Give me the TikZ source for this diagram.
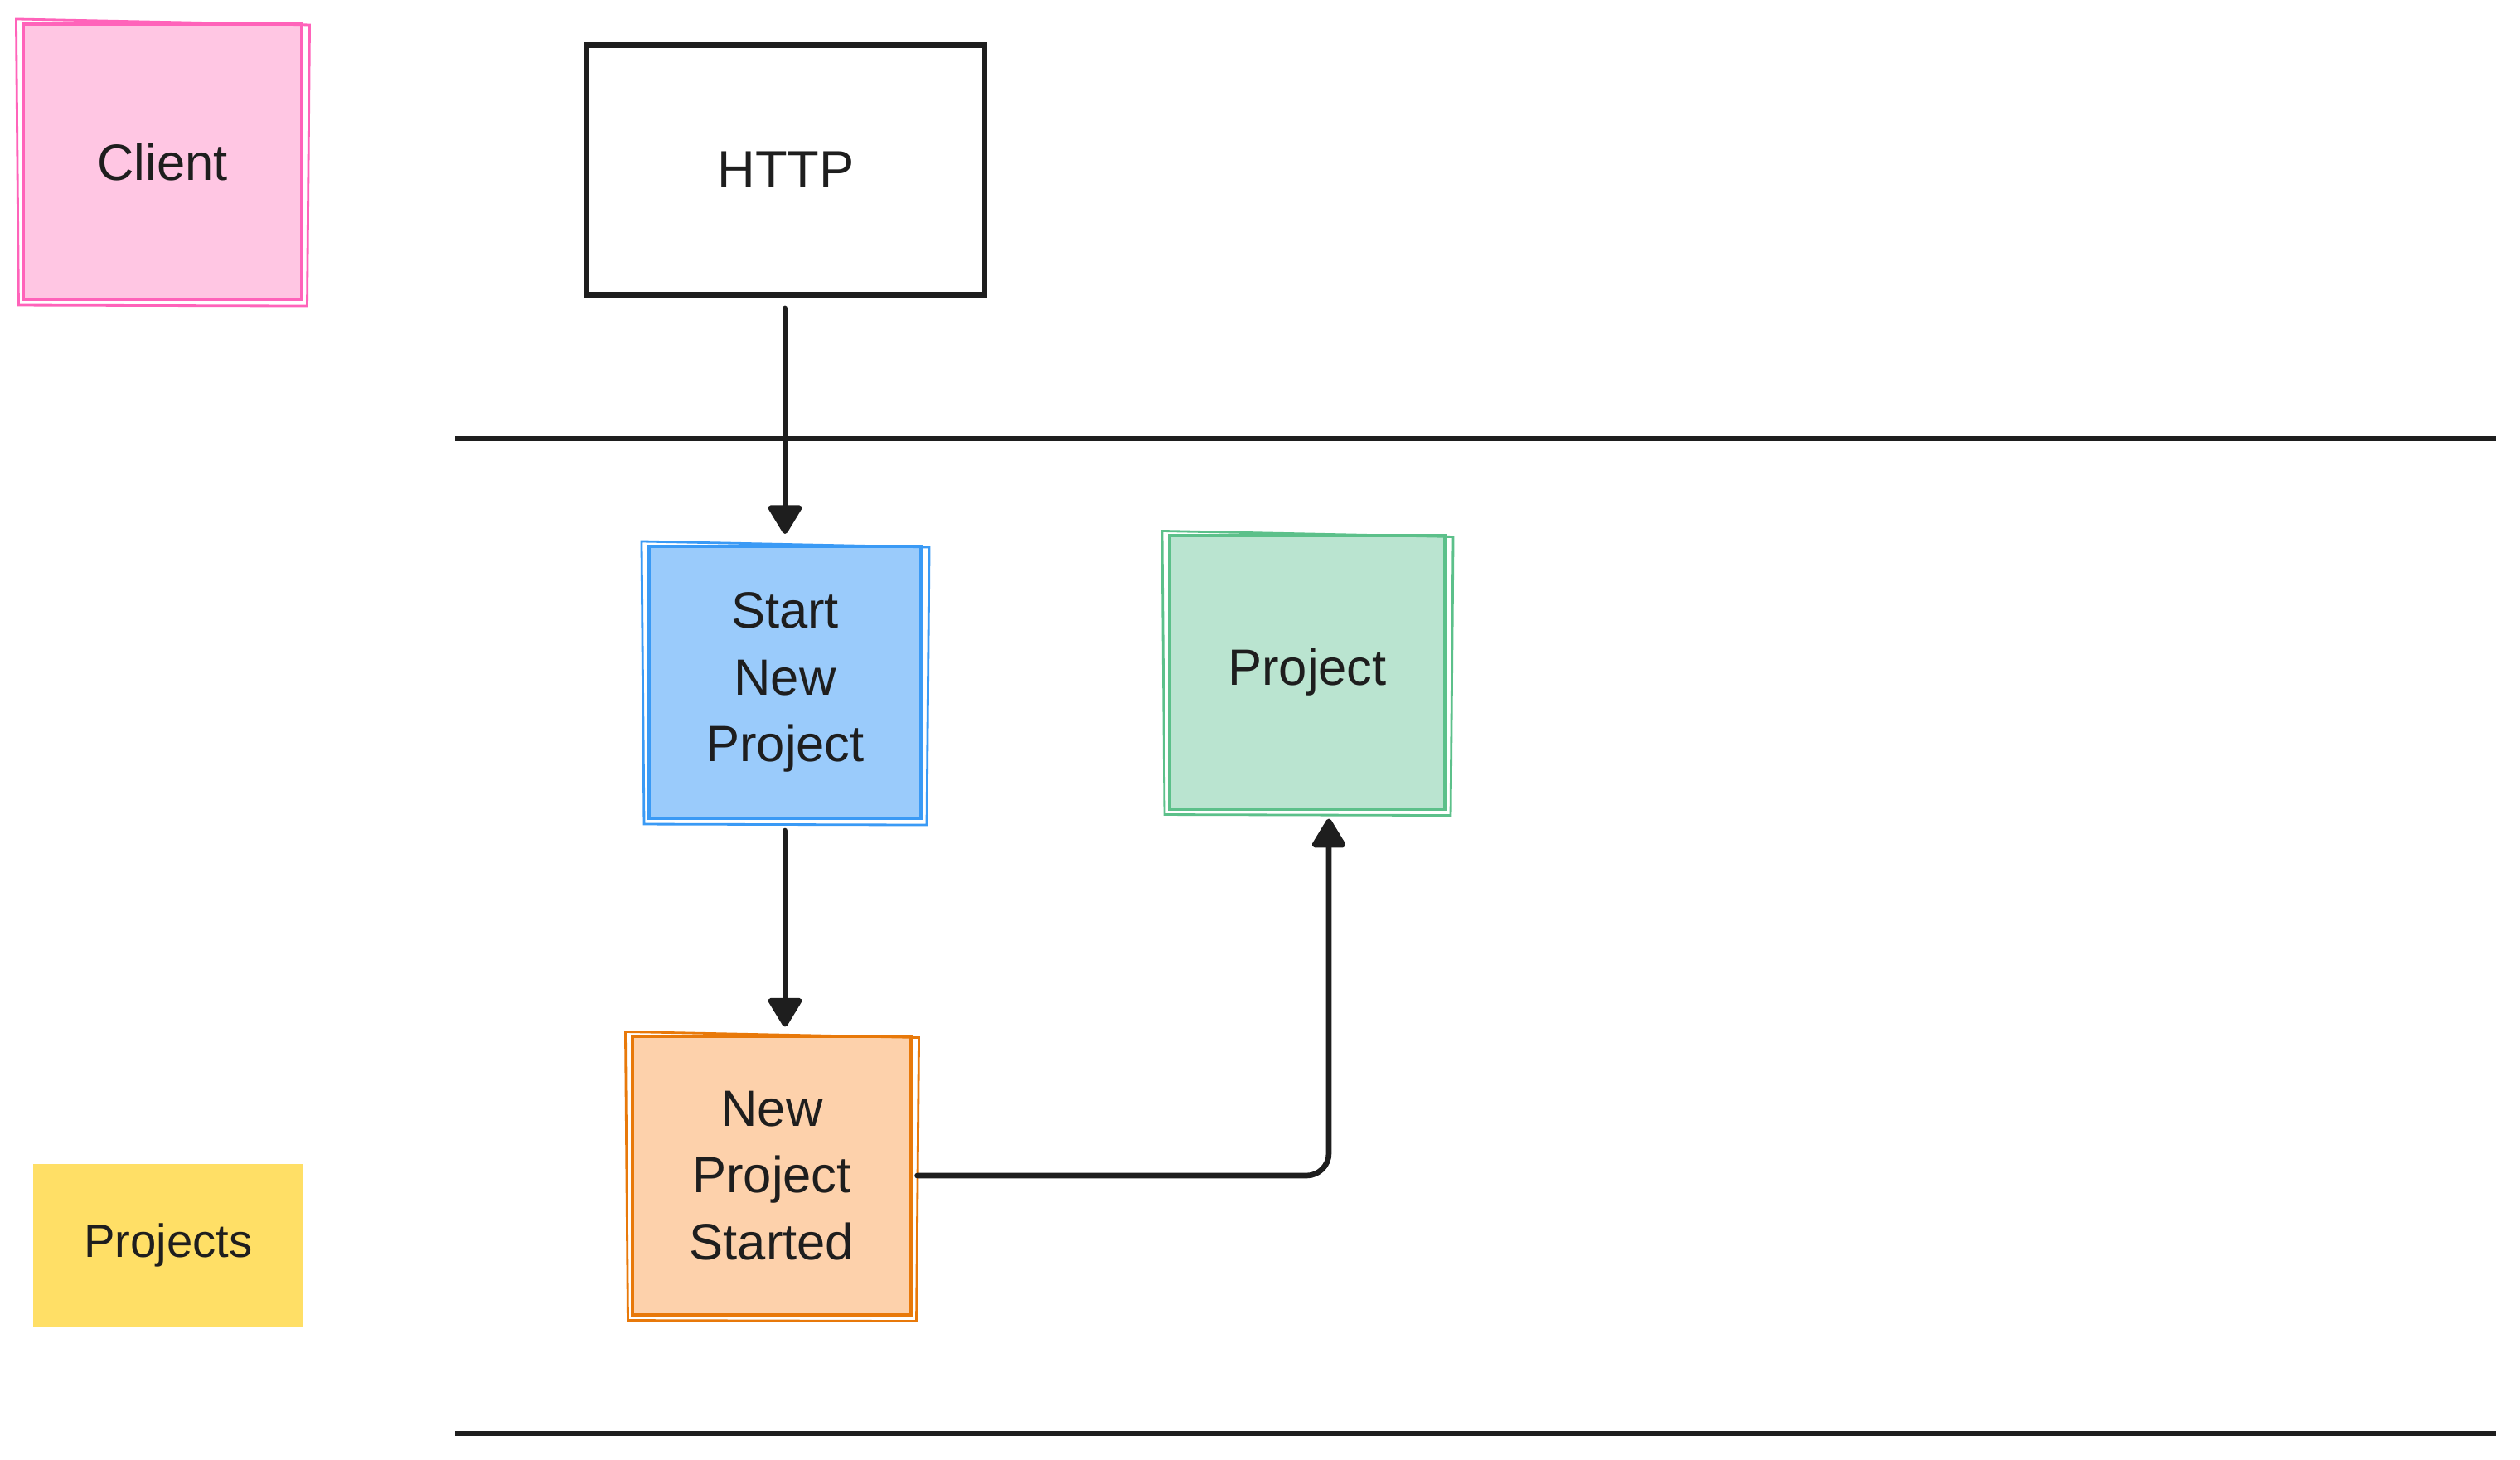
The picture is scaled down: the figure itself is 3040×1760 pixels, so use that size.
\documentclass[tikz,border=0pt]{standalone}
\usepackage{fontspec}
\setmainfont{Liberation Sans}
\usetikzlibrary{arrows.meta}
\definecolor{ink}{HTML}{1E1E1E}
\definecolor{pinkline}{HTML}{FF63BA}
\definecolor{pinkfill}{HTML}{FFC6E3}
\definecolor{blueline}{HTML}{3A9AF5}
\definecolor{bluefill}{HTML}{9ACBFB}
\definecolor{greenline}{HTML}{5CC08A}
\definecolor{greenfill}{HTML}{BAE4D0}
\definecolor{orangeline}{HTML}{E8790A}
\definecolor{orangefill}{HTML}{FDD1AB}
\definecolor{yellowfill}{HTML}{FFDF66}
\begin{document}
\begin{tikzpicture}[x=0.01cm,y=-0.01cm,
  sticky/.style={draw,line width=1.1pt,inner sep=0pt,align=center,text=ink,
    minimum width=3.32cm,minimum height=3.32cm,font=\fontsize{17.5}{23}\selectfont},
  flow/.style={draw=ink,line width=1.9pt,line cap=round,rounded corners=0.27cm,
    -{Triangle[length=0.38cm,width=0.44cm,round]}},
  lane/.style={draw=ink,line width=1.8pt}]
\useasboundingbox (0,0) rectangle (3040,1760);
% swimlane borders
\draw[lane] (549,529) -- (3011,529);
\draw[lane] (549,1729) -- (3011,1729);
% boxes
\node[sticky,draw=pinkline,fill=pinkfill,minimum width=3.35cm] (client) at (196,195) {Client};
\node[draw=ink,line width=1.9pt,text=ink,minimum width=4.8cm,minimum height=3.01cm,
  font=\fontsize{18}{21}\selectfont] (http) at (948,205) {HTTP};
\node[sticky,draw=blueline,fill=bluefill,minimum width=3.28cm,minimum height=3.28cm] (start) at (947,823) {Start\\New\\Project};
\node[sticky,draw=greenline,fill=greenfill,minimum height=3.29cm] (project) at (1577,811) {Project};
\node[sticky,draw=orangeline,fill=orangefill,minimum width=3.35cm,minimum height=3.35cm] (started) at (931,1418) {New\\Project\\Started};
\node[fill=yellowfill,text=ink,minimum width=3.25cm,minimum height=1.96cm,
  font=\fontsize{16}{19}\selectfont] (projects) at (203,1502) {Projects};
% second pencil stroke
\foreach \n/\c in {client/pinkline,start/blueline,project/greenline,started/orangeline}
  \draw[\c,line width=0.8pt] ([shift={(-7,-4)}]\n.north west) -- ([shift={(8,3)}]\n.north east)
    -- ([shift={(5,6)}]\n.south east) -- ([shift={(-4,5)}]\n.south west) -- cycle;
% arrows
\draw[flow,shorten <=0.13cm,shorten >=0.13cm] (http.south -| start.north) -- (start.north);
\draw[flow,shorten <=0.13cm,shorten >=0.1cm] (start.south) -- (start.south |- started.north);
\draw[flow,shorten <=0.06cm,shorten >=0.1cm] (started.east) -| ([xshift=0.26cm]project.south);
\end{tikzpicture}
\end{document}
